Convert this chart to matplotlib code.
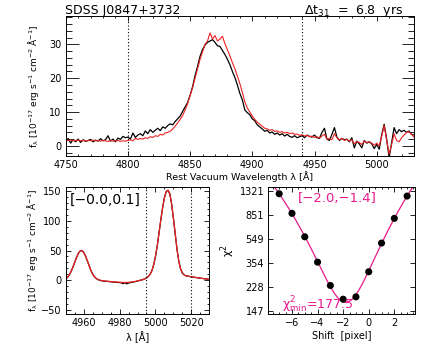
import numpy as np
import matplotlib
matplotlib.use("Agg")
import matplotlib.pyplot as plt
from matplotlib.ticker import MultipleLocator, FixedLocator, NullLocator

# ---------------- data ----------------
# top panel: H-beta broad line, two epochs (2 A grid)
wave_top = np.arange(4750, 5031, 2)
flux_black = [
    1.0, 2.2, 0.8, 1.9, 1.2, 2.0, 1.0, 1.8, 1.3, 1.6,
    1.9, 1.2, 1.7, 1.4, 2.1, 1.5, 1.8, 3.0, 1.4, 2.0,
    1.2, 2.3, 1.9, 2.8, 2.4, 2.6, 2.0, 3.8, 2.5, 3.2,
    3.6, 3.0, 4.4, 3.6, 4.8, 4.0, 4.6, 5.2, 4.5, 5.6,
    5.2, 6.0, 6.5, 6.2, 7.2, 8.0, 8.8, 10.2, 11.5, 12.8,
    15.0, 17.5, 20.8, 23.5, 26.5, 28.5, 29.8, 30.6, 31.0, 31.4,
    30.6, 29.6, 29.4, 28.2, 27.0, 25.6, 24.0, 22.0, 20.2, 18.0,
    15.5, 13.6, 10.6, 9.8, 9.2, 8.0, 7.4, 6.2, 5.6, 5.0,
    4.3, 4.6, 3.8, 4.1, 3.4, 3.8, 3.2, 3.6, 2.9, 3.4,
    2.8, 2.5, 3.0, 2.4, 2.7, 3.0, 2.4, 3.2, 2.8, 2.6,
    3.2, 2.4, 2.2, 4.0, 5.2, 2.0, 1.6, 3.4, 5.4, 2.6,
    1.6, 2.2, 1.8, 2.0, 1.2, 2.4, -0.6, 1.4, 0.6, -0.6,
    1.6, 0.8, 1.2, 0.6, -0.8, 0.4, -1.0, 3.2, 6.4, 2.0,
    -3.5, 1.0, 5.4, 3.6, 4.8, 4.2, 4.6, 4.0, 4.4, 3.4,
    3.2]
flux_red = [
    1.8, 1.6, 1.7, 1.5, 1.6, 1.7, 1.5, 1.6, 1.4, 1.6,
    1.5, 1.7, 1.5, 1.6, 1.4, 1.6, 1.5, 1.3, 1.6, 1.4,
    1.5, 1.6, 1.3, 1.5, 1.4, 1.6, 1.8, 1.5, 2.2, 1.9,
    2.2, 2.0, 2.4, 2.2, 2.7, 2.5, 3.0, 2.8, 3.4, 3.2,
    3.8, 4.0, 4.3, 5.0, 5.8, 6.8, 7.8, 9.0, 10.6, 12.5,
    14.8, 17.2, 20.0, 22.8, 25.6, 27.8, 30.0, 31.0, 33.4, 31.6,
    32.6, 31.0, 31.6, 32.4, 30.2, 28.4, 26.6, 24.6, 22.8, 20.6,
    18.4, 15.8, 13.0, 11.2, 10.0, 8.8, 7.8, 7.0, 6.4, 5.8,
    5.2, 5.0, 4.6, 4.8, 4.3, 4.4, 4.0, 4.2, 3.8, 4.0,
    3.6, 3.8, 3.4, 3.5, 3.1, 3.3, 2.9, 3.1, 2.7, 2.9,
    2.5, 2.7, 2.3, 2.9, 3.4, 2.0, 2.2, 1.8, 3.6, 2.4,
    1.8, 2.2, 1.6, 1.9, 1.4, 1.8, 0.6, 1.2, 1.0, 0.4,
    1.4, 1.0, 1.2, 0.8, 0.2, 0.8, 0.0, 2.8, 6.0, 1.6,
    -2.4, 0.4, 3.6, 1.6, 1.2, 2.4, 3.2, 4.0, 4.2, 3.4,
    2.6]
window_top = [4800, 4940]

# bottom-left: [O III] doublet (1 A grid)
wave_oiii = np.arange(4950, 5031, 1)
oiii_black = [
    2.0, 5.0, 9.0, 15.0, 22.0, 30.0, 38.0, 45.0, 49.0, 50.0,
    47.0, 41.0, 33.0, 25.0, 17.0, 10.5, 6.0, 3.0, 1.2, 0.0,
    -0.8, -1.2, -1.5, -1.8, -2.0, -2.4, -2.8, -3.0, -3.2, -3.6,
    -3.8, -4.2, -5.6, -4.0, -5.8, -4.6, -3.8, -3.2, -2.6, -2.0,
    -1.2, -0.4, 0.4, 1.2, 2.5, 4.0, 6.5, 10.0, 16.0, 26.0,
    40.0, 58.0, 80.0, 102.0, 122.0, 139.0, 149.0, 151.0, 145.0, 128.0,
    104.0, 78.0, 52.0, 32.0, 19.0, 12.0, 9.0, 7.5, 7.0, 6.5,
    6.0, 5.5, 5.0, 4.5, 4.0, 3.6, 3.2, 2.8, 2.4, 2.0,
    1.6]
oiii_red = [
    2.0, 5.0, 9.0, 15.0, 22.0, 30.0, 38.0, 45.0, 49.0, 50.0,
    47.0, 41.0, 33.0, 25.0, 17.0, 10.5, 6.0, 3.0, 1.4, 0.4,
    -0.4, -0.8, -1.2, -1.5, -1.8, -2.1, -2.4, -2.6, -2.8, -3.0,
    -3.2, -3.4, -3.6, -3.6, -3.6, -3.4, -3.0, -2.6, -2.2, -1.7,
    -1.0, -0.3, 0.5, 1.3, 2.5, 4.0, 6.5, 10.0, 16.0, 26.0,
    40.0, 58.0, 80.0, 102.0, 122.0, 139.0, 149.0, 151.0, 145.0, 128.0,
    104.0, 78.0, 52.0, 32.0, 19.0, 12.0, 9.0, 7.5, 7.0, 6.5,
    6.0, 5.5, 5.0, 4.5, 4.0, 3.6, 3.2, 2.8, 2.4, 2.0,
    1.6]
window_oiii = [4995, 5020]

# bottom-right: chi^2 vs shift
shift = [-7, -6, -5, -4, -3, -2, -1, 0, 1, 2, 3]
chi2 = [1257, 878, 571, 359, 234, 182, 190, 301, 509, 801, 1205]
chi2_ticks = [147, 228, 354, 549, 851, 1321]

title_left = "SDSS J0847+3732"
title_right = r"$\Delta$t$_{31}$  =  6.8  yrs"
range_oiii = "[\u22120.0,0.1]"
range_shift = "[\u22122.0,\u22121.4]"
chi2_min_text = r"$\chi^2_{\rm min}$=177.5"

MAG = "#E8198B"
RED = "#EE2222"
# ---------------- figure ----------------
plt.rcParams['font.family'] = ['DejaVu Sans']
plt.rcParams['mathtext.fontset'] = 'dejavusans'
plt.rcParams['mathtext.default'] = 'regular'
fig = plt.figure(figsize=(4.36, 3.49), dpi=100)

ylab = "f$_\u03bb$ [10$^{-17}$ erg s$^{-1}$ cm$^{-2}$ \u00c5$^{-1}$]"

def style(ax, ylen=3.5, xlen=3.5):
    ax.tick_params(which='both', direction='in', top=True, right=True,
                   labelsize=7, width=0.6, pad=3)
    ax.tick_params(axis='y', which='major', length=ylen)
    ax.tick_params(axis='y', which='minor', length=ylen / 2)
    ax.tick_params(axis='x', which='major', length=xlen)
    ax.tick_params(axis='x', which='minor', length=xlen / 2)
    for s in ax.spines.values():
        s.set_linewidth(0.7)

# top panel
ax1 = fig.add_axes([0.1507, 0.5530, 0.7989, 0.4012])
ax1.plot(wave_top, flux_black, color='black', lw=0.9)
ax1.plot(wave_top, flux_red, color=RED, lw=0.8)
for w in window_top:
    ax1.axvline(w, color='black', ls=(0, (1, 2)), lw=0.8)
ax1.set_xlim(4750, 5030)
ax1.set_ylim(-3, 38.4)
ax1.xaxis.set_major_locator(MultipleLocator(50))
ax1.xaxis.set_minor_locator(MultipleLocator(10))
ax1.yaxis.set_major_locator(MultipleLocator(10))
ax1.yaxis.set_minor_locator(MultipleLocator(2))
style(ax1, ylen=9, xlen=3.5)
ax1.set_xlabel("Rest Vacuum Wavelength \u03bb [\u00c5]", fontsize=6.8, labelpad=1)
ax1.set_ylabel(ylab, fontsize=6.5, labelpad=6)
fig.text(0.149, 0.969, title_left, fontsize=9, ha='left', va='center')
fig.text(0.926, 0.969, title_right, fontsize=9, ha='right', va='center')

# bottom-left
ax2 = fig.add_axes([0.1507, 0.0994, 0.3294, 0.3656])
ax2.plot(wave_oiii, oiii_black, color='black', lw=0.9)
ax2.plot(wave_oiii, oiii_red, color=RED, lw=0.9)
for w in window_oiii:
    ax2.axvline(w, color='black', ls=(0, (1, 2)), lw=0.8)
ax2.set_xlim(4950, 5030)
ax2.set_ylim(-57, 157)
ax2.xaxis.set_major_locator(MultipleLocator(20))
ax2.xaxis.set_minor_locator(MultipleLocator(5))
ax2.yaxis.set_major_locator(MultipleLocator(50))
ax2.yaxis.set_minor_locator(MultipleLocator(10))
style(ax2, ylen=3.5, xlen=3.5)
ax2.set_xlabel("\u03bb [\u00c5]", fontsize=7, labelpad=2)
ax2.set_ylabel(ylab, fontsize=6.5, labelpad=1)
ax2.text(0.277, 0.896, range_oiii, transform=ax2.transAxes, fontsize=10,
         ha='center', va='center')

# bottom-right
ax3 = fig.add_axes([0.6154, 0.0994, 0.3365, 0.3656])
ax3.set_yscale('log')
coef = np.polyfit(shift, chi2, 4)
xs = np.linspace(-7.85, 3.62, 300)
ax3.plot(xs, np.polyval(coef, xs), color=MAG, lw=0.9)
ax3.scatter(shift, chi2, s=26, color='black', zorder=3, edgecolors='none')
ax3.set_xlim(-7.85, 3.62)
ax3.set_ylim(138, 1430)
ax3.yaxis.set_major_locator(FixedLocator(chi2_ticks))
ax3.yaxis.set_minor_locator(NullLocator())
ax3.set_yticklabels([str(t) for t in chi2_ticks])
ax3.xaxis.set_major_locator(MultipleLocator(2))
ax3.xaxis.set_minor_locator(MultipleLocator(0.5))
style(ax3, ylen=3.5, xlen=3.5)
ax3.set_xlabel("Shift  [pixel]", fontsize=7, labelpad=2)
ax3.set_ylabel(r"$\chi^2$", fontsize=8, labelpad=2)
ax3.text(0.473, 0.904, range_shift, transform=ax3.transAxes, fontsize=9.5,
         ha='center', va='center', color=MAG)
ax3.text(0.093, 0.075, chi2_min_text, transform=ax3.transAxes, fontsize=9,
         ha='left', va='center', color=MAG)

fig.savefig("out.png", dpi=100)
